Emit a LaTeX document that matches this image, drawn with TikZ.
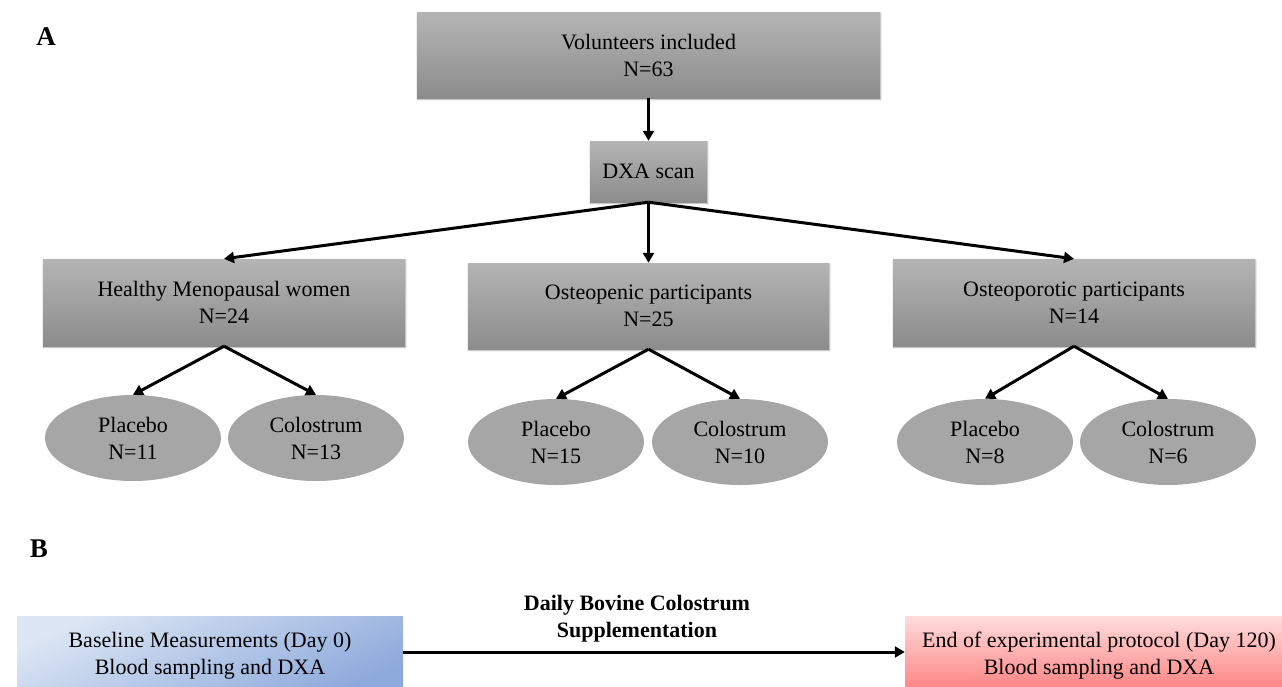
\documentclass[tikz,border=0pt]{standalone}
\usepackage{fontspec}
\setmainfont{Liberation Serif}
\usetikzlibrary{arrows.meta,shapes.geometric,shadows.blur}
\definecolor{gtop}{HTML}{B4B4B4}
\definecolor{gbot}{HTML}{8C8C8C}
\definecolor{ellgray}{HTML}{A6A6A6}
\definecolor{btop}{HTML}{DCE6F4}
\definecolor{bbot}{HTML}{8DA9DB}
\definecolor{rtop}{HTML}{FFDCDC}
\definecolor{rbot}{HTML}{FF7C7C}
\begin{document}
\begin{tikzpicture}[x=1pt,y=-1pt,
  txt/.style={font=\fontsize{22}{27}\selectfont, align=center, inner sep=0pt},
  graybox/.style={txt, rectangle, top color=gtop, bottom color=gbot, draw=none,
    blur shadow={shadow xshift=0.6pt, shadow yshift=-1.2pt, shadow blur steps=5, shadow opacity=35}},
  grp/.style={txt, ellipse, fill=ellgray, minimum width=176pt, minimum height=86pt},
  bluebox/.style={txt, rectangle, top color=btop, bottom color=bbot, shading angle=25, draw=none},
  redbox/.style={txt, rectangle, top color=rtop, bottom color=rbot, draw=none},
  conn/.style={line width=3pt, -{Triangle[length=10pt,width=11pt]}},
  panel/.style={font=\bfseries\fontsize{27}{30}\selectfont, inner sep=0pt}]
\useasboundingbox (0,0) rectangle (1282,686);
\clip (0,0) rectangle (1282,686);

\node[panel] (labA) at (46,37) {A};
\node[panel] (labB) at (39,549) {B};

\node[graybox, minimum width=463pt, minimum height=86pt] (vol) at (648.5,55) {Volunteers included\\N=63};
\node[graybox, minimum width=117pt, minimum height=61pt] (dxa) at (648.5,171.5) {DXA scan};

\node[graybox, minimum width=362pt, minimum height=87pt] (hmw) at (224,302.5) {Healthy Menopausal women\\N=24};
\node[graybox, minimum width=361pt, minimum height=86pt] (ope) at (648.5,306) {Osteopenic participants\\N=25};
\node[graybox, minimum width=362pt, minimum height=87pt] (opo) at (1074,302.5) {Osteoporotic participants\\N=14};

\node[grp] (hp) at (133,438) {Placebo\\N=11};
\node[grp] (hc) at (316,438) {Colostrum\\N=13};
\node[grp] (ep) at (556,442) {Placebo\\N=15};
\node[grp] (ec) at (740,442) {Colostrum\\N=10};
\node[grp] (rp) at (985,442) {Placebo\\N=8};
\node[grp] (rc) at (1168,442) {Colostrum\\N=6};

\draw[conn] (vol.south) -- (dxa.north);
\draw[conn] (dxa.south) -- (hmw.north);
\draw[conn] (dxa.south) -- (ope.north);
\draw[conn] (dxa.south) -- (opo.north);
\draw[conn] (hmw.south) -- (hp.north);
\draw[conn] (hmw.south) -- (hc.north);
\draw[conn] (ope.south) -- (ep.north);
\draw[conn] (ope.south) -- (ec.north);
\draw[conn] (opo.south) -- (rp.north);
\draw[conn] (opo.south) -- (rc.north);

\node[bluebox, minimum width=386pt, minimum height=80pt] (base) at (210,656) {Baseline Measurements (Day 0)\\Blood sampling and DXA};
\node[redbox, minimum width=388pt, minimum height=80pt] (fin) at (1099,656) {End of experimental protocol (Day 120)\\Blood sampling and DXA};
\node[txt, font=\bfseries\fontsize{22}{27}\selectfont] (supp) at (637,619) {Daily Bovine Colostrum\\Supplementation};
\draw[conn] ([yshift=4pt]base.east) -- ([yshift=4pt]fin.west);
\end{tikzpicture}
\end{document}
